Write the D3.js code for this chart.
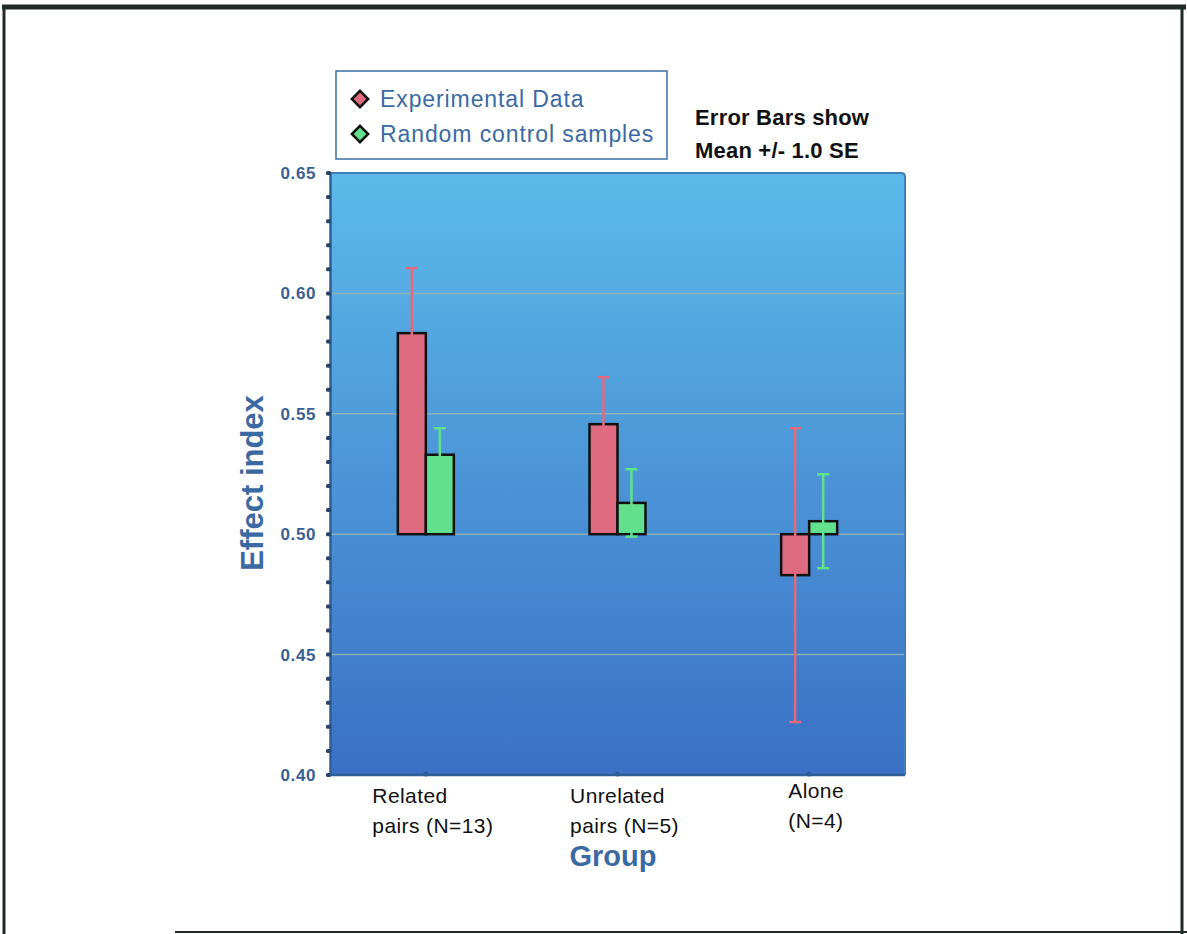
<!DOCTYPE html>
<html>
<head>
<meta charset="utf-8">
<script src="https://cdn.jsdelivr.net/npm/d3@7"></script>
<style>
  body { margin: 0; background: #fff; }
  svg { display: block; font-family: "Liberation Sans", Arial, sans-serif; }
</style>
</head>
<body>
<div id="chart"></div>
<script>
// data
var groups = ['Related pairs (N=13)', 'Unrelated pairs (N=5)', 'Alone (N=4)'];
var groupLines = [['Related', 'pairs (N=13)'], ['Unrelated', 'pairs (N=5)'], ['Alone', '(N=4)']];
var seriesNames = ['Experimental Data', 'Random control samples'];
var expMean = [0.5835, 0.5457, 0.483];
var expSE   = [0.027, 0.0195, 0.061];
var ctrlMean = [0.533, 0.513, 0.5054];
var ctrlSE   = [0.011, 0.014, 0.0195];
var yTicks = [0.40, 0.45, 0.50, 0.55, 0.60, 0.65];
var baseline = 0.50;

var width = 1187, height = 934;
var plot = { left: 330, right: 905, top: 173, bottom: 775 };
var barColors = ['#de6b7f', '#62e08e'];
var blueText = '#3b6aa3';

var svg = d3.select('#chart').append('svg')
	.attr('width', width)
	.attr('height', height);

// scanned page frame
var frame = svg.append('g').attr('stroke', '#1f2a24').attr('fill', 'none');
frame.append('line').attr('x1', 2).attr('x2', 1186).attr('y1', 7).attr('y2', 7).attr('stroke-width', 5);
frame.append('line').attr('x1', 4).attr('x2', 4).attr('y1', 5).attr('y2', 934).attr('stroke-width', 3);
frame.append('line').attr('x1', 1182).attr('x2', 1182).attr('y1', 5).attr('y2', 934).attr('stroke-width', 3);
frame.append('line').attr('x1', 175).attr('x2', 1187).attr('y1', 932).attr('y2', 932).attr('stroke-width', 2);

var defs = svg.append('defs');
var grad = defs.append('linearGradient')
	.attr('id', 'bg').attr('x1', 0).attr('y1', 0).attr('x2', 0).attr('y2', 1);
grad.append('stop').attr('offset', '0%').attr('stop-color', '#5cbaea');
grad.append('stop').attr('offset', '100%').attr('stop-color', '#3b70c4');

var x = d3.scaleBand()
	.domain(groups)
	.range([plot.left, plot.right]);

var xSub = d3.scaleBand()
	.domain(seriesNames)
	.range([0, 56]);

var y = d3.scaleLinear()
	.domain([0.40, 0.65])
	.range([plot.bottom, plot.top]);

// plot background
svg.append('rect')
	.attr('x', plot.left).attr('y', plot.top)
	.attr('width', plot.right - plot.left)
	.attr('height', plot.bottom - plot.top)
	.attr('fill', 'url(#bg)');

// gridlines
svg.append('g')
	.selectAll('line')
	.data(yTicks.slice(1, -1))
	.join('line')
		.attr('x1', plot.left).attr('x2', plot.right)
		.attr('y1', function(d) { return y(d); })
		.attr('y2', function(d) { return y(d); })
		.attr('stroke', '#93b4b4')
		.attr('stroke-width', 1.5)
		.attr('opacity', 0.9);

// plot frame edges
svg.append('path')
	.attr('d', `M${plot.left},${plot.top}H${plot.right - 4}Q${plot.right},${plot.top} ${plot.right},${plot.top + 4}V${plot.bottom}`)
	.attr('fill', 'none')
	.attr('stroke', '#3e7fb8')
	.attr('stroke-width', 2);

// bars
var barData = [];
groups.forEach(function(g, i) {
	barData.push({ group: g, series: seriesNames[0], mean: expMean[i], se: expSE[i], color: barColors[0] });
	barData.push({ group: g, series: seriesNames[1], mean: ctrlMean[i], se: ctrlSE[i], color: barColors[1] });
});

function barX(d) {
	return x(d.group) + x.bandwidth() / 2 - 28 + xSub(d.series);
}

svg.append('g')
	.selectAll('rect')
	.data(barData)
	.join('rect')
		.attr('x', barX)
		.attr('y', function(d) { return y(Math.max(d.mean, baseline)); })
		.attr('width', xSub.bandwidth())
		.attr('height', function(d) { return Math.abs(y(d.mean) - y(baseline)); })
		.attr('fill', function(d) { return d.color; })
		.attr('stroke', '#111')
		.attr('stroke-width', 2.5);

// error bars
var err = svg.append('g')
	.selectAll('g')
	.data(barData)
	.join('g')
		.attr('stroke', function(d) { return d.color; })
		.attr('stroke-width', 2.5);

err.append('line')
	.attr('x1', function(d) { return barX(d) + xSub.bandwidth() / 2; })
	.attr('x2', function(d) { return barX(d) + xSub.bandwidth() / 2; })
	.attr('y1', function(d) { return y(d.mean + d.se); })
	.attr('y2', function(d) { return y(d.mean - d.se); });

[1, -1].forEach(function(s) {
	err.append('line')
		.attr('x1', function(d) { return barX(d) + xSub.bandwidth() / 2 - 6; })
		.attr('x2', function(d) { return barX(d) + xSub.bandwidth() / 2 + 6; })
		.attr('y1', function(d) { return y(d.mean + s * d.se); })
		.attr('y2', function(d) { return y(d.mean + s * d.se); });
});

// y axis with minor ticks
var yAxis = svg.append('g')
	.attr('transform', `translate(${plot.left},0)`)
	.call(d3.axisLeft(y).tickValues(yTicks).tickFormat(d3.format('.2f')).tickSize(0).tickPadding(14));

yAxis.select('.domain').attr('stroke', '#2f5e95').attr('stroke-width', 2.5);
yAxis.selectAll('text')
	.attr('fill', '#3a5f92')
	.attr('font-size', 17)
	.attr('font-weight', 'bold')
	.attr('letter-spacing', 0.6)
	.attr('font-family', '"Liberation Sans", Arial, sans-serif');

svg.append('g')
	.selectAll('rect')
	.data(d3.range(0, 26).map(function(i) { return 0.40 + i * 0.01; }))
	.join('rect')
		.attr('x', plot.left - 4)
		.attr('y', function(d) { return y(d) - 2; })
		.attr('width', 5)
		.attr('height', 4)
		.attr('rx', 1.5)
		.attr('fill', '#28446a');

// x axis
svg.append('line')
	.attr('x1', plot.left).attr('x2', plot.right)
	.attr('y1', plot.bottom).attr('y2', plot.bottom)
	.attr('stroke', '#2f5e95')
	.attr('stroke-width', 2.5);

svg.append('g')
	.selectAll('circle')
	.data(groups)
	.join('circle')
		.attr('cx', function(d) { return x(d) + x.bandwidth() / 2; })
		.attr('cy', plot.bottom - 1)
		.attr('r', 2.5)
		.attr('fill', '#2f5e95');

var xl = svg.append('g')
	.selectAll('text')
	.data(groups)
	.join('text')
		.attr('font-size', 21)
		.attr('fill', '#111')
		.attr('letter-spacing', 0.4)
		.attr('y', function(d, i) { return i === 2 ? 798 : 803; });

xl.each(function(d, i) {
	var t = d3.select(this);
	groupLines[i].forEach(function(line, j) {
		t.append('tspan').attr('dy', j === 0 ? 0 : 30).text(line);
	});
	var w = d3.max(t.selectAll('tspan').nodes(), function(n) { return n.getComputedTextLength(); });
	var left = x(d) + x.bandwidth() / 2 - w / 2 + 7;
	t.selectAll('tspan').attr('x', left);
});

// axis titles
svg.append('text')
	.attr('transform', 'translate(263,483) rotate(-90)')
	.attr('text-anchor', 'middle')
	.attr('font-size', 31)
	.attr('font-weight', 'bold')
	.attr('fill', blueText)
	.text('Effect index');

svg.append('text')
	.attr('x', 613)
	.attr('y', 866)
	.attr('text-anchor', 'middle')
	.attr('font-size', 29)
	.attr('font-weight', 'bold')
	.attr('fill', blueText)
	.text('Group');

// legend
var legend = svg.append('g').attr('transform', 'translate(336,71)');
legend.append('rect')
	.attr('width', 331).attr('height', 88)
	.attr('fill', '#fff')
	.attr('stroke', '#3a6ea5')
	.attr('stroke-width', 1.5);

var li = legend.selectAll('g.item')
	.data(seriesNames)
	.join('g')
		.attr('class', 'item')
		.attr('transform', function(d, i) { return `translate(24,${28 + i * 35})`; });

li.append('path')
	.attr('d', d3.symbol(d3.symbolDiamond2, 170))
	.attr('fill', function(d, i) { return barColors[i]; })
	.attr('stroke', '#111')
	.attr('stroke-width', 2.5);

li.append('text')
	.attr('x', 20)
	.attr('y', 8)
	.attr('font-size', 23)
	.attr('letter-spacing', 0.9)
	.attr('fill', blueText)
	.text(function(d) { return d; });

// note
svg.append('text')
	.attr('x', 695)
	.attr('font-size', 22)
	.attr('font-weight', 'bold')
	.attr('fill', '#111')
	.attr('letter-spacing', 0.2)
	.selectAll('tspan')
	.data(['Error Bars show', 'Mean +/- 1.0 SE'])
	.join('tspan')
		.attr('x', 695)
		.attr('y', function(d, i) { return 125 + i * 33; })
		.text(function(d) { return d; });
</script>
</body>
</html>
